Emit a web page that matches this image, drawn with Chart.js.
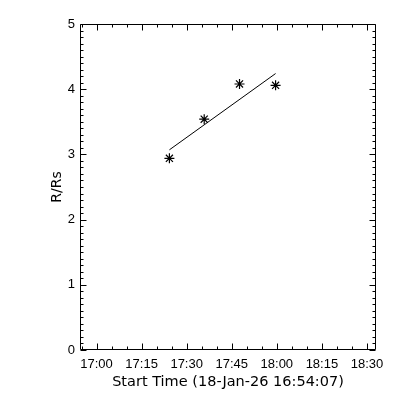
<!DOCTYPE html>
<html>
<head>
<meta charset="utf-8">
<script src="https://cdn.jsdelivr.net/npm/chart.js@4"></script>
<style>
    html, body { margin: 0; padding: 0; background: #ffffff; }
</style>
</head>
<body>
<canvas id="heightChart" width="400" height="400"></canvas>
<script>
// values (times are clock times on 18-Jan-26)
var pointTimes = ['17:24:15', '17:35:50', '17:47:35', '17:59:35'];
var heightValues = [2.94, 3.54, 4.08, 4.06];

// straight fit drawn through the points
var fitTimes = ['17:24:15', '17:59:35'];
var fitValues = [3.07, 4.24];

var xTickMinutes = [0, 15, 30, 45, 60, 75, 90];
var xTickLabels = ['17:00', '17:15', '17:30', '17:45', '18:00', '18:15', '18:30'];
var yTickValues = [0, 1, 2, 3, 4, 5];
var yTickLabels = ['0', '1', '2', '3', '4', '5'];

var xTitle = 'Start Time (18-Jan-26 16:54:07)';
var yTitle = 'R/Rs';

// minutes after 17:00
function toMinutes(t) {
    var p = t.split(':');
    return (Number(p[0]) - 17) * 60 + Number(p[1]) + Number(p[2] || 0) / 60;
}

function toPoints(times, values) {
    var out = [];
    for (var i = 0; i < times.length; i++) {
        out.push({ x: toMinutes(times[i]), y: values[i] });
    }
    return out;
}

// IDL style box with inward ticks on all four sides
var boxTicks = {
    id: 'boxTicks',
    afterDraw: function(chart) {
        var ctx = chart.ctx;
        var area = chart.chartArea;
        var xs = chart.scales.x;
        var ys = chart.scales.y;
        var L = Math.round(area.left) + 0.5, R = Math.round(area.right) - 0.5;
        var T = Math.round(area.top) + 0.5, B = Math.round(area.bottom) - 0.5;
        ctx.save();
        ctx.strokeStyle = '#000000';
        ctx.lineWidth = 1;
        ctx.beginPath();
        ctx.rect(L, T, R - L, B - T);

        var v, px, len;
        for (v = -5; v <= 93; v += 5) {
            if (v < xs.min || v > xs.max) continue;
            px = Math.round(xs.getPixelForValue(v)) + 0.5;
            len = (v % 15 === 0) ? 6 : 3;
            ctx.moveTo(px, B); ctx.lineTo(px, B - len);
            ctx.moveTo(px, T); ctx.lineTo(px, T + len);
        }
        for (var k = 0; k <= 50; k++) {
            v = k / 10;
            px = Math.round(ys.getPixelForValue(v)) + 0.5;
            len = (k % 10 === 0) ? 6 : 3;
            ctx.moveTo(L, px); ctx.lineTo(L + len, px);
            ctx.moveTo(R, px); ctx.lineTo(R - len, px);
        }
        ctx.stroke();
        ctx.restore();
    }
};

var ctx = document.getElementById('heightChart');
new Chart(ctx, {
    type: 'scatter',
    data: {
        datasets: [{
            label: 'fit',
            data: toPoints(fitTimes, fitValues),
            showLine: true,
            borderColor: '#000000',
            borderWidth: 1,
            pointRadius: 0,
            fill: false
        }, {
            label: 'R/Rs',
            data: toPoints(pointTimes, heightValues),
            showLine: false,
            pointStyle: 'star',
            pointRadius: 5,
            borderColor: '#000000',
            backgroundColor: '#000000',
            pointBorderWidth: 1.2
        }]
    },
    options: {
        responsive: false,
        animation: false,
        events: [],
        layout: { padding: { left: 0, right: 24, top: 24, bottom: 0 } },
        plugins: {
            legend: { display: false },
            tooltip: { enabled: false }
        },
        scales: {
            x: {
                type: 'linear',
                min: -5.5,
                max: 93,
                afterBuildTicks: function(scale) {
                    scale.ticks = xTickMinutes.map(function(m) { return { value: m }; });
                },
                afterFit: function(scale) { scale.height = 50; },
                grid: { display: false, drawTicks: false },
                border: { display: false },
                ticks: {
                    autoSkip: false,
                    maxRotation: 0,
                    padding: 7,
                    color: '#000000',
                    font: { family: "'Liberation Sans', sans-serif", size: 13 },
                    callback: function(value) {
                        var i = xTickMinutes.indexOf(value);
                        return i >= 0 ? xTickLabels[i] : '';
                    }
                },
                title: {
                    display: true,
                    text: xTitle,
                    color: '#000000',
                    padding: { top: 9, bottom: 9 },
                    font: { family: "'DejaVu Sans', sans-serif", size: 14.5 }
                }
            },
            y: {
                min: 0,
                max: 5,
                afterBuildTicks: function(scale) {
                    scale.ticks = yTickValues.map(function(v) { return { value: v }; });
                },
                afterFit: function(scale) { scale.width = 80; },
                grid: { display: false, drawTicks: false },
                border: { display: false },
                ticks: {
                    padding: 5,
                    color: '#000000',
                    font: { family: "'Liberation Sans', sans-serif", size: 13 },
                    callback: function(value) {
                        var i = yTickValues.indexOf(value);
                        return i >= 0 ? yTickLabels[i] : '';
                    }
                },
                title: {
                    display: true,
                    text: yTitle,
                    color: '#000000',
                    padding: { top: 49, bottom: 0 },
                    font: { family: "'DejaVu Sans', sans-serif", size: 14 }
                }
            }
        }
    },
    plugins: [boxTicks]
});
</script>
</body>
</html>
